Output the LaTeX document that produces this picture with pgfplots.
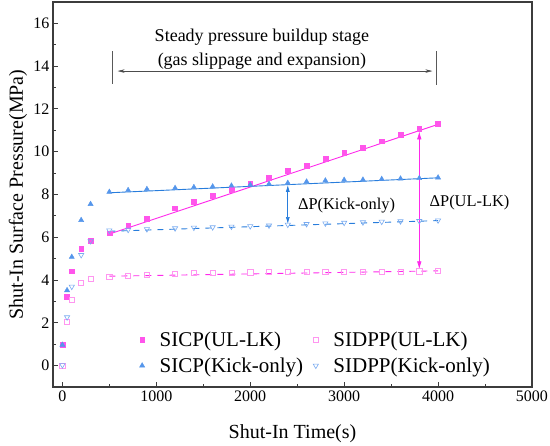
\documentclass[border=0pt]{standalone}
\usepackage{fontspec}
\setmainfont{Liberation Serif}
\usepackage{pgfplots}
\usepackage{pgfplotstable}
\pgfplotsset{compat=1.18}
\usetikzlibrary{arrows.meta}
\definecolor{mag}{RGB}{255,40,235}
\definecolor{magm}{RGB}{255,85,235}
\definecolor{magl}{RGB}{255,150,240}
\definecolor{blu}{RGB}{40,125,220}
\definecolor{blum}{RGB}{85,150,235}
\definecolor{blul}{RGB}{120,170,240}
\definecolor{axc}{RGB}{60,60,60}

\pgfplotstableread{
t p
0 0.97
50 3.22
100 4.41
200 5.45
300 5.84
500 6.19
700 6.54
900 6.88
1200 7.36
1400 7.66
1600 7.94
1800 8.22
2000 8.53
2200 8.80
2400 9.10
2600 9.35
2800 9.66
3000 9.94
3200 10.20
3400 10.49
3600 10.78
3800 11.06
4000 11.30
}\sicpul

\pgfplotstableread{
t p
0 0.97
50 3.52
100 5.08
200 6.80
300 7.55
500 8.12
700 8.20
900 8.25
1200 8.30
1400 8.34
1600 8.37
1800 8.41
2000 8.45
2200 8.49
2400 8.54
2600 8.60
2800 8.65
3000 8.68
3200 8.69
3400 8.72
3600 8.74
3800 8.76
4000 8.79
}\sicpk

\pgfplotstableread{
t p
0 0.02
50 2.26
100 3.69
200 5.17
300 5.82
500 6.32
700 6.35
900 6.38
1200 6.42
1400 6.45
1600 6.47
1800 6.50
2000 6.52
2200 6.55
2400 6.59
2600 6.62
2800 6.65
3000 6.68
3200 6.70
3400 6.73
3600 6.75
3800 6.76
4000 6.79
}\sidppk

\pgfplotstableread{
t p
0 0.0
50 2.03
100 3.08
200 3.88
300 4.06
500 4.14
700 4.20
900 4.25
1200 4.30
1400 4.33
1600 4.34
1800 4.35
2000 4.36
2200 4.37
2400 4.37
2600 4.38
2800 4.38
3000 4.39
3200 4.39
3400 4.40
3600 4.40
3800 4.41
4000 4.42
}\sidppul

\begin{document}
\begin{tikzpicture}
\path[use as bounding box] (-53pt,-59pt) rectangle (497pt,387pt);
\begin{axis}[
 scale only axis, width=479pt, height=385pt,
 xmin=-100, xmax=5000, ymin=-1, ymax=17,
 xtick={0,1000,...,5000}, ytick={0,2,...,16},
 minor x tick num=1, minor y tick num=1,
 tick align=inside, tick pos=left,
 major tick length=5pt, minor tick length=3pt,
 axis line style={axc, line width=1.3pt},
 every tick/.style={axc, line width=1pt},
 tick label style={font=\fontsize{16}{18}\selectfont},
 /pgf/number format/assume math mode=true,
 /pgf/number format/set thousands separator={},
 xlabel={Shut-In Time(s)}, ylabel={Shut-In Surface Pressure(MPa)},
 every axis x label/.style={at={(axis description cs:0.5,-0.12)}, anchor=center, font=\fontsize{20}{24}\selectfont},
 every axis y label/.style={at={(axis description cs:-0.073,0.5)}, rotate=90, anchor=center, font=\fontsize{20}{24}\selectfont},
 legend columns=2,
 legend cell align=left,
 legend style={draw=none, fill=none, font=\fontsize{21}{25}\selectfont,
   at={(rel axis cs:0.174,0.155)}, anchor=north west, row sep=6pt,
   /tikz/every odd column/.append style={column sep=13pt},
   /tikz/every even column/.append style={column sep=8pt}},
]
\addplot[only marks, mark=square*, mark size=2.4pt, color=magm] table[x=t,y=p] {\sicpul};
\addlegendentry{SICP(UL-LK)}
\addplot[only marks, mark=square, mark size=2.6pt, color=magl, mark options={line width=0.6pt}] table[x=t,y=p] {\sidppul};
\addlegendentry{SIDPP(UL-LK)}
\addplot[only marks, mark=triangle*, mark size=3pt, color=blum] table[x=t,y=p] {\sicpk};
\addlegendentry{SICP(Kick-only)}
\addplot[only marks, mark=triangle, mark size=3pt, color=blul, mark options={rotate=180, line width=0.6pt}] table[x=t,y=p] {\sidppk};
\addlegendentry{SIDPP(Kick-only)}

\addplot[forget plot, mag, line width=0.9pt] coordinates {(500,6.15) (4000,11.28)};
\addplot[forget plot, blu, line width=0.9pt] coordinates {(500,8.08) (4000,8.78)};
\addplot[forget plot, blu, line width=0.9pt, dash pattern=on 6pt off 6pt] coordinates {(500,6.28) (4000,6.78)};
\addplot[forget plot, mag, line width=0.9pt, dash pattern=on 6pt off 6pt] coordinates {(500,4.18) (4000,4.43)};

% annotations
\draw[gray!70!black, line width=0.6pt] (axis cs:528,14.7) -- (axis cs:528,13.15);
\draw[gray!70!black, line width=0.6pt] (axis cs:3979,14.7) -- (axis cs:3979,13.1);
\draw[gray!60!black, line width=0.5pt, {Stealth[length=7pt,width=3.5pt]}-{Stealth[length=7pt,width=3.5pt]}] (axis cs:588,13.77) -- (axis cs:3939,13.77);
\node[font=\fontsize{18}{24}\selectfont, align=center] at (axis cs:2125,14.8) {Steady pressure buildup stage\\(gas slippage and expansion)};
\draw[blu, line width=0.7pt, {Latex[length=7pt,width=4pt]}-{Latex[length=7pt,width=4pt]}] (axis cs:2400,8.45) -- (axis cs:2400,6.62);
\node[font=\fontsize{16.4}{20}\selectfont, anchor=west] at (axis cs:2471,7.48) {ΔP(Kick-only)};
\draw[mag, line width=0.7pt, {Latex[length=8pt,width=4.5pt]}-{Latex[length=8pt,width=4.5pt]}] (axis cs:3800,10.95) -- (axis cs:3800,4.5);
\node[font=\fontsize{16.4}{20}\selectfont, anchor=west] at (axis cs:3872,7.64) {ΔP(UL-LK)};
\end{axis}
\end{tikzpicture}
\end{document}
